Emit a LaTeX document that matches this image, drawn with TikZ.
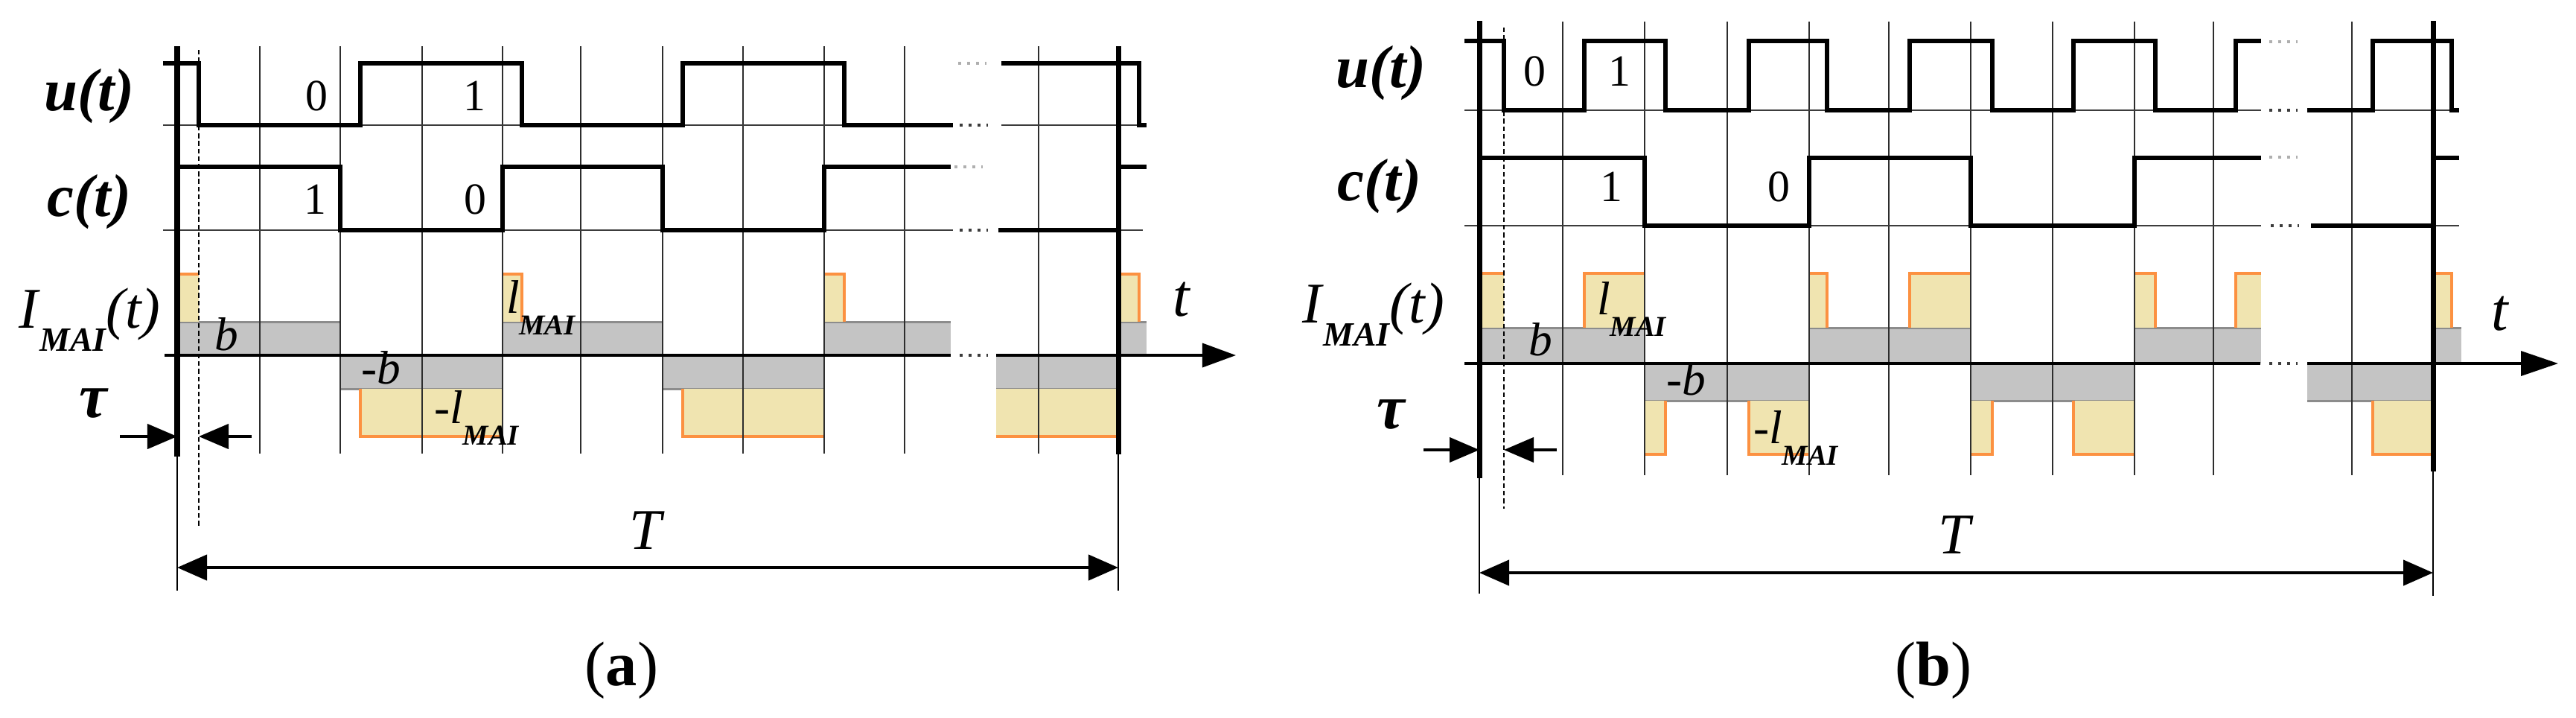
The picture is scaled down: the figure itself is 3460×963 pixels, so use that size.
\documentclass[tikz,border=0pt]{standalone}
\usepackage{fontspec}
\setmainfont{Liberation Serif}[UprightFont={Liberation Serif}, BoldFont={Liberation Serif Bold}, ItalicFont={Liberation Serif Italic}, BoldItalicFont={Liberation Serif Bold Italic}]
\usetikzlibrary{arrows.meta}
\definecolor{grayfill}{RGB}{196,196,196}
\definecolor{grayedge}{RGB}{140,140,140}
\definecolor{yellowfill}{RGB}{240,228,176}
\definecolor{orangeedge}{RGB}{252,145,65}
\definecolor{gridcol}{RGB}{45,45,45}
\definecolor{basecol}{RGB}{60,60,60}
\definecolor{dotcol}{RGB}{175,175,175}
\newcommand{\lmaitext}{\textit{l}\raisebox{-8.5pt}{\fontsize{11}{11}\selectfont\bfseries\itshape MAI}}
\newcommand{\imaitext}{\textit{I}\raisebox{-9pt}{\fontsize{13}{13}\selectfont\bfseries\itshape MAI}\textit{(t)}}
\tikzset{
  gridln/.style={draw=gridcol, line width=0.7pt},
  axisln/.style={draw=black, line width=2pt},
  extln/.style={draw=black, line width=0.6pt},
  sigln/.style={draw=black, line width=1.6pt, line join=miter, line cap=butt},
  baseln/.style={draw=basecol, line width=0.75pt},
  zeroln/.style={draw=black, line width=1pt},
  dotsdark/.style={draw=basecol, line width=1.2pt, dash pattern=on 1.1pt off 2.3pt},
  dotslight/.style={draw=dotcol, line width=1.2pt, dash pattern=on 1.1pt off 2.3pt},
  grayedgeln/.style={draw=grayedge, line width=0.85pt},
  orangeln/.style={draw=orangeedge, line width=0.9pt},
  dashln/.style={draw=black, line width=0.6pt, dash pattern=on 1.8pt off 1.1pt},
  dimln/.style={draw=black, line width=1.2pt},
  tip/.style={-{Triangle[length=4mm,width=3.3mm]}},
  lbl/.style={inner sep=0pt, outer sep=0pt},
  siglabel/.style={lbl, font=\fontsize{23}{23}\selectfont\bfseries\itshape},
  digit/.style={lbl, anchor=base, font=\fontsize{17}{17}\selectfont},
  vallabel/.style={lbl, anchor=base west, font=\fontsize{18}{18}\selectfont\itshape},
  tlabel/.style={lbl, font=\fontsize{23}{23}\selectfont\itshape},
  taulabel/.style={lbl, font=\fontsize{24}{24}\selectfont\bfseries\itshape},
  caplabel/.style={lbl, font=\fontsize{24}{24}\selectfont}
}
\begin{document}
\begin{tikzpicture}[x=0.01cm, y=-0.01cm]
\useasboundingbox (0,0) rectangle (3460,963);
\fill[white] (0,0) rectangle (3460,963);

%================ PANEL (a) =================
\fill[grayfill] (238,432) rectangle (457,477);
\fill[grayfill] (675,432) rectangle (890,477);
\fill[grayfill] (1107,432) rectangle (1277,477);
\fill[grayfill] (1502,432) rectangle (1540,477);
\fill[grayfill] (457,477) rectangle (675,522);
\fill[grayfill] (890,477) rectangle (1107,522);
\fill[grayfill] (1338,477) rectangle (1502,522);
\draw[grayedgeln] (238,432) -- (457,432);
\draw[grayedgeln] (675,432) -- (890,432);
\draw[grayedgeln] (1107,432) -- (1277,432);
\draw[grayedgeln] (1502,432) -- (1540,432);
\draw[grayedgeln] (457,522) -- (675,522);
\draw[grayedgeln] (890,522) -- (1107,522);
\draw[grayedgeln] (1338,522) -- (1502,522);
\fill[yellowfill] (238,368) rectangle (267,432);
\fill[yellowfill] (675,368) rectangle (701,432);
\fill[yellowfill] (1107,368) rectangle (1134,432);
\fill[yellowfill] (1502,368) rectangle (1530,432);
\fill[yellowfill] (484,522) rectangle (675,586);
\fill[yellowfill] (917,522) rectangle (1107,586);
\fill[yellowfill] (1338,522) rectangle (1502,586);
\draw[orangeln] (238,368) -- (267,368);
\draw[orangeln] (675,368) -- (701,368) -- (701,432);
\draw[orangeln] (1107,368) -- (1134,368) -- (1134,432);
\draw[orangeln] (1502,368) -- (1530,368) -- (1530,432);
\draw[orangeln] (484,522) -- (484,586) -- (675,586);
\draw[orangeln] (917,522) -- (917,586) -- (1107,586);
\draw[orangeln] (1338,586) -- (1502,586);
\foreach \x in {349,457,567,675,780,890,998,1107,1215,1395}
  \draw[gridln] (\x,62) -- (\x,609);
\draw[baseln] (219,168) -- (1280,168);
\draw[baseln] (1345,168) -- (1540,168);
\draw[baseln] (219,309) -- (1280,309);
\draw[baseln] (1341,309) -- (1535,309);
\draw[dotslight] (1287,85) -- (1325,85);
\draw[dotsdark] (1289,168) -- (1327,168);
\draw[dotslight] (1282,224) -- (1320,224);
\draw[dotsdark] (1289,309) -- (1327,309);
\draw[dotsdark] (1289,477) -- (1327,477);
\coordinate (a0s) at (221,477);
\coordinate (a0m) at (1277,477);
\coordinate (a0n) at (1338,477);
\coordinate (a0e) at (1660,477);
\draw[zeroln] (a0s) -- (a0m);
\draw[zeroln, -{Triangle[length=4.5mm,width=3.2mm]}] (a0n) -- (a0e);
\draw[sigln] (219,85) -- (267,85) -- (267,168) -- (484,168) -- (484,85) -- (701,85) -- (701,168)
  -- (917,168) -- (917,85) -- (1134,85) -- (1134,168) -- (1280,168);
\draw[sigln] (1345,85) -- (1530,85) -- (1530,168) -- (1540,168);
\draw[sigln] (238,224) -- (457,224) -- (457,309) -- (675,309) -- (675,224) -- (890,224) -- (890,309)
  -- (1107,309) -- (1107,224) -- (1277,224);
\draw[sigln] (1341,309) -- (1502,309) -- (1502,224) -- (1540,224);
\draw[axisln] (238,62) -- (238,613);
\draw[extln] (238,613) -- (238,793);
\draw[axisln] (1502,62) -- (1502,610);
\draw[extln] (1502,610) -- (1502,793);
\draw[dashln] (267,67) -- (267,708);
\coordinate (atauA) at (161,586);
\coordinate (atauB) at (238,586);
\coordinate (atauC) at (338,586);
\coordinate (atauD) at (267,586);
\draw[dimln, tip] (atauA) -- (atauB);
\draw[dimln, tip] (atauC) -- (atauD);
\coordinate (aTl) at (238,762);
\coordinate (aTr) at (1502,762);
\draw[dimln, {Triangle[length=4mm,width=3.4mm]}-{Triangle[length=4mm,width=3.4mm]}] (aTl) -- (aTr);
\node[siglabel] (au) at (120,129) {u(t)};
\node[siglabel] (ac) at (120,271) {c(t)};
\node[lbl, anchor=base west, font=\fontsize{22}{22}\selectfont] (aI) at (25,440) {\imaitext};
\node[taulabel] (atau) at (125,542) {τ};
\node[digit] (au0) at (425,148) {0};
\node[digit] (au1) at (637,148) {1};
\node[digit] (ac1) at (423,287) {1};
\node[digit] (ac0) at (638,287) {0};
\node[vallabel] (ab) at (288,470) {b};
\node[vallabel] (anb) at (485,515) {-b};
\node[vallabel] (al) at (680,420) {\lmaitext};
\node[vallabel] (anl) at (583,568) {-\lmaitext};
\node[tlabel] (at) at (1587,402) {t};
\node[lbl, font=\fontsize{22}{22}\selectfont\itshape] (aT) at (867,712) {T};
\node[caplabel] (acap) at (835,900) {(\textbf{a})};

%================ PANEL (b) =================
\fill[grayfill] (1987,440) rectangle (2209,488);
\fill[grayfill] (2430,440) rectangle (2647,488);
\fill[grayfill] (2867,440) rectangle (3037,488);
\fill[grayfill] (3268,440) rectangle (3306,488);
\fill[grayfill] (2209,488) rectangle (2430,538);
\fill[grayfill] (2647,488) rectangle (2867,538);
\fill[grayfill] (3099,488) rectangle (3268,538);
\draw[grayedgeln] (1987,440) -- (2209,440);
\draw[grayedgeln] (2430,440) -- (2647,440);
\draw[grayedgeln] (2867,440) -- (3037,440);
\draw[grayedgeln] (3268,440) -- (3306,440);
\draw[grayedgeln] (2209,538) -- (2430,538);
\draw[grayedgeln] (2647,538) -- (2867,538);
\draw[grayedgeln] (3099,538) -- (3268,538);
\fill[yellowfill] (1987,367) rectangle (2020,440);
\fill[yellowfill] (2128,367) rectangle (2209,440);
\fill[yellowfill] (2430,367) rectangle (2454,440);
\fill[yellowfill] (2565,367) rectangle (2647,440);
\fill[yellowfill] (2867,367) rectangle (2895,440);
\fill[yellowfill] (3003,367) rectangle (3037,440);
\fill[yellowfill] (3268,367) rectangle (3293,440);
\fill[yellowfill] (2209,538) rectangle (2237,610);
\fill[yellowfill] (2349,538) rectangle (2430,610);
\fill[yellowfill] (2647,538) rectangle (2676,610);
\fill[yellowfill] (2785,538) rectangle (2867,610);
\fill[yellowfill] (3187,538) rectangle (3268,610);
\draw[orangeln] (1987,367) -- (2020,367);
\draw[orangeln] (2128,440) -- (2128,367) -- (2209,367);
\draw[orangeln] (2430,367) -- (2454,367) -- (2454,440);
\draw[orangeln] (2565,440) -- (2565,367) -- (2647,367);
\draw[orangeln] (2867,367) -- (2895,367) -- (2895,440);
\draw[orangeln] (3003,440) -- (3003,367) -- (3037,367);
\draw[orangeln] (3268,367) -- (3293,367) -- (3293,440);
\draw[orangeln] (2209,610) -- (2237,610) -- (2237,538);
\draw[orangeln] (2349,538) -- (2349,610) -- (2430,610);
\draw[orangeln] (2647,610) -- (2676,610) -- (2676,538);
\draw[orangeln] (2785,538) -- (2785,610) -- (2867,610);
\draw[orangeln] (3187,538) -- (3187,610) -- (3268,610);
\foreach \x in {2099,2209,2320,2430,2537,2647,2757,2867,2973,3159}
  \draw[gridln] (\x,29) -- (\x,638);
\draw[baseln] (1967,148) -- (3037,148);
\draw[baseln] (3099,148) -- (3303,148);
\draw[baseln] (1967,303) -- (3037,303);
\draw[baseln] (3104,303) -- (3303,303);
\draw[dotslight] (3048,56) -- (3086,56);
\draw[dotsdark] (3048,148) -- (3086,148);
\draw[dotslight] (3048,211) -- (3086,211);
\draw[dotsdark] (3050,303) -- (3088,303);
\draw[dotsdark] (3048,488) -- (3086,488);
\coordinate (b0s) at (1967,488);
\coordinate (b0m) at (3036,488);
\coordinate (b0n) at (3099,488);
\coordinate (b0e) at (3436,488);
\draw[zeroln] (b0s) -- (b0m);
\draw[zeroln, -{Triangle[length=5mm,width=3.3mm]}] (b0n) -- (b0e);
\draw[sigln] (1967,55) -- (2020,55) -- (2020,148) -- (2128,148) -- (2128,55) -- (2237,55) -- (2237,148)
  -- (2349,148) -- (2349,55) -- (2454,55) -- (2454,148) -- (2565,148) -- (2565,55) -- (2676,55)
  -- (2676,148) -- (2785,148) -- (2785,55) -- (2895,55) -- (2895,148) -- (3003,148) -- (3003,55) -- (3037,55);
\draw[sigln] (3099,148) -- (3187,148) -- (3187,55) -- (3293,55) -- (3293,148) -- (3303,148);
\draw[sigln] (1990,212) -- (2209,212) -- (2209,303) -- (2430,303) -- (2430,212) -- (2647,212) -- (2647,303)
  -- (2867,303) -- (2867,212) -- (3037,212);
\draw[sigln] (3104,303) -- (3268,303) -- (3268,212) -- (3303,212);
\draw[axisln] (1987,28) -- (1987,642);
\draw[extln] (1987,642) -- (1987,797);
\draw[axisln] (3268,28) -- (3268,633);
\draw[extln] (3268,633) -- (3268,800);
\draw[dashln] (2020,37) -- (2020,683);
\coordinate (btauA) at (1912,604);
\coordinate (btauB) at (1987,604);
\coordinate (btauC) at (2091,604);
\coordinate (btauD) at (2020,604);
\draw[dimln, tip] (btauA) -- (btauB);
\draw[dimln, tip] (btauC) -- (btauD);
\coordinate (bTl) at (1987,769);
\coordinate (bTr) at (3268,769);
\draw[dimln, {Triangle[length=4mm,width=3.4mm]}-{Triangle[length=4mm,width=3.4mm]}] (bTl) -- (bTr);
\node[siglabel] (bu) at (1855,98) {u(t)};
\node[siglabel] (bc) at (1853,250) {c(t)};
\node[lbl, anchor=base west, font=\fontsize{22}{22}\selectfont] (bI) at (1749,433) {\imaitext};
\node[taulabel] (btau) at (1868,557) {τ};
\node[digit] (bu0) at (2061,115) {0};
\node[digit] (bu1) at (2175,115) {1};
\node[digit] (bc1) at (2164,270) {1};
\node[digit] (bc0) at (2389,270) {0};
\node[vallabel] (bb) at (2053,477) {b};
\node[vallabel] (bnb) at (2238,530) {-b};
\node[vallabel] (bl) at (2145,422) {\lmaitext};
\node[vallabel] (bnl) at (2355,595) {-\lmaitext};
\node[tlabel] (bt) at (3358,421) {t};
\node[lbl, font=\fontsize{22}{22}\selectfont\itshape] (bT) at (2625,718) {T};
\node[caplabel] (bcap) at (2597,900) {(\textbf{b})};
\end{tikzpicture}
\end{document}
